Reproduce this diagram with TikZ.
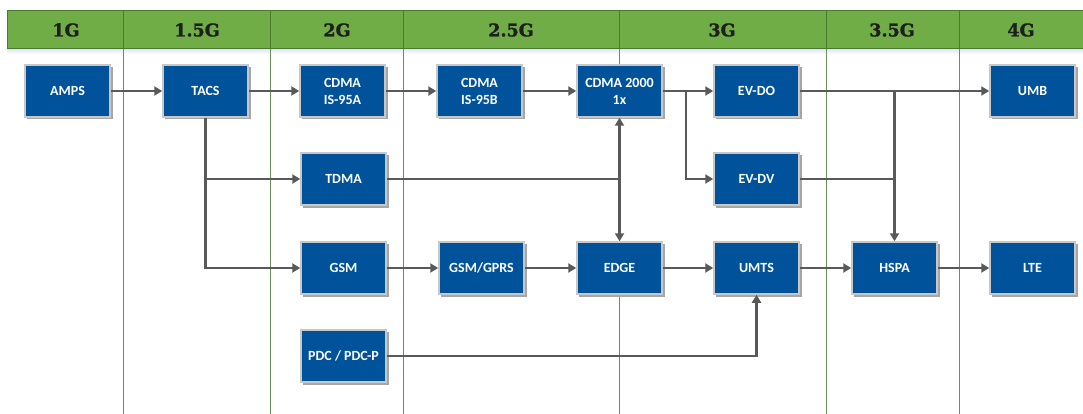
\documentclass[tikz,border=0pt]{standalone}
\usepackage{fontspec}
\setmainfont{Carlito}
\newfontfamily\headfont[BoldFeatures={FakeBold=1.5}]{DejaVu Serif}
\usetikzlibrary{arrows.meta,positioning,calc}
\definecolor{hdrgreen}{HTML}{70AD47}
\definecolor{hdrline}{HTML}{4A7A2E}
\definecolor{colline}{HTML}{6B8F5A}
\definecolor{boxblue}{HTML}{00529B}
\definecolor{boxedge}{HTML}{C8C8C8}
\definecolor{arrowgray}{HTML}{595959}
\tikzset{
  techbox/.style={rectangle, fill=boxblue, draw=boxedge, line width=1.5pt,
    minimum width=85pt, minimum height=52pt, inner sep=1pt, align=center,
    text=white, font=\fontsize{14}{17}\selectfont\bfseries},
  boxshadow/.style={fill=black!35, draw=none},
  conn/.style={draw=arrowgray, line width=2.2pt},
  arr/.style={conn, -{Triangle[length=8pt,width=9pt]}},
  hdrtext/.style={font=\headfont\fontsize{17.5}{20}\selectfont\bfseries, text=black!88},
}
\begin{document}
\begin{tikzpicture}[x=1pt,y=-1pt]
\useasboundingbox (0,0) rectangle (1083,414);
\fill[white] (0,0) rectangle (1083,414);
% header shadow
\shade[top color=blue!12, bottom color=white] (7,49) rectangle (1083,54);
% column lines
\foreach \x in {123,270,403,619,826,959}
  \draw[colline, line width=0.8pt] (\x,49) -- (\x,414);
% header
\fill[hdrgreen] (7,11) rectangle (1083,49);
\draw[hdrline, line width=1pt] (1083,11) -- (7,11) -- (7,49) -- (1083,49);
\foreach \x in {123,270,403,619,826,959}
  \draw[hdrline, line width=1pt] (\x,11) -- (\x,49);
\node[hdrtext] (h1) at (66,30) {1G};
\node[hdrtext] (h2) at (197,30) {1.5G};
\node[hdrtext] (h3) at (337,30) {2G};
\node[hdrtext] (h4) at (511,30) {2.5G};
\node[hdrtext] (h5) at (722,30) {3G};
\node[hdrtext] (h6) at (892,30) {3.5G};
\node[hdrtext] (h7) at (1021,30) {4G};
% shadows
\foreach \cx/\cy in {67.5/91,205.5/91,342.5/91,479.5/91,619.5/91,756.5/91,1032.5/91,
  343.5/179,756.5/179,343.5/268,481.5/268,619.5/268,756.5/268,894.5/268,1032.5/268,343.5/356}
  \fill[boxshadow] (\cx-41,\cy-24) rectangle (\cx+45.5,\cy+28.5);
% boxes
\node[techbox] (amps) at (67.5,91) {AMPS};
\node[techbox] (tacs) at (205.5,91) {TACS};
\node[techbox] (is95a) at (342.5,91) {CDMA\\IS-95A};
\node[techbox] (is95b) at (479.5,91) {CDMA\\IS-95B};
\node[techbox] (cdma2k) at (619.5,91) {CDMA 2000\\1x};
\node[techbox] (evdo) at (756.5,91) {EV-DO};
\node[techbox] (umb) at (1032.5,91) {UMB};
\node[techbox] (tdma) at (343.5,179) {TDMA};
\node[techbox] (evdv) at (756.5,179) {EV-DV};
\node[techbox] (gsm) at (343.5,268) {GSM};
\node[techbox] (gprs) at (481.5,268) {GSM/GPRS};
\node[techbox] (edge) at (619.5,268) {EDGE};
\node[techbox] (umts) at (756.5,268) {UMTS};
\node[techbox] (hspa) at (894.5,268) {HSPA};
\node[techbox] (lte) at (1032.5,268) {LTE};
\node[techbox] (pdc) at (343.5,356) {PDC / PDC-P};
% junction coordinates
\coordinate (j1) at (686,91);
\coordinate (j2) at (894.5,91);
\coordinate (j3) at (205.5,179);
\coordinate (j4) at (619.5,179);
% connectors
\draw[arr] (amps) -- (tacs);
\draw[arr] (tacs) -- (is95a);
\draw[arr] (is95a) -- (is95b);
\draw[arr] (is95b) -- (cdma2k);
\draw[arr] (cdma2k) -- (evdo);
\draw[arr] (j1) |- (evdv.west);
\draw[arr] (evdo) -- (umb);
\draw[arr] (j2) -- (hspa.north);
\draw[conn] (evdv.east) -- (evdv.east -| j2);
\draw[arr] (tacs.south) |- (gsm.west);
\draw[arr] (j3) -- (tdma.west);
\draw[conn] (tdma.east) -- (j4);
\draw[arr] (j4) -- (cdma2k.south);
\draw[arr] (j4) -- (edge.north);
\draw[arr] (gsm) -- (gprs);
\draw[arr] (gprs) -- (edge);
\draw[arr] (edge) -- (umts);
\draw[arr] (umts) -- (hspa);
\draw[arr] (hspa) -- (lte);
\draw[arr] (pdc.east) -| (umts.south);
\end{tikzpicture}
\end{document}
